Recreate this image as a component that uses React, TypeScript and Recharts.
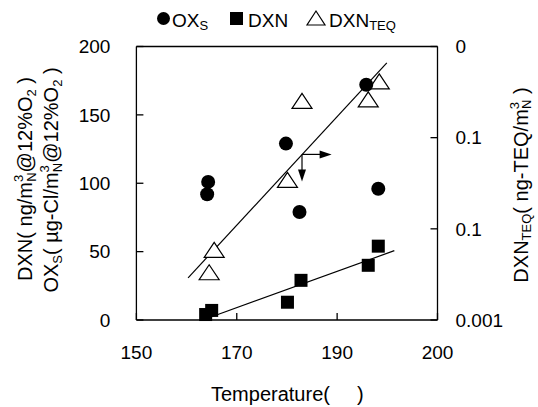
import { ScatterChart, Scatter, XAxis, YAxis, ReferenceLine, ReferenceDot } from "recharts"

// ── Data ──────────────────────────────────────────────────────────────────

const oxsTemp = [164.3, 164.1, 179.8, 182.5, 195.8, 198.2]
const oxsValue = [101, 92, 129, 79, 172, 96]

const dxnTemp = [163.8, 165.0, 180.1, 182.8, 196.2, 198.2]
const dxnValue = [4, 7, 13, 29, 40, 54]

const teqTemp = [165.5, 164.5, 180.1, 183.0, 196.2, 198.4]
const teqValue = [0.0058, 0.0033, 0.034, 0.25, 0.26, 0.41]

// trend lines (end points)
const teqTrendTemp = [160.3, 199.9]
const teqTrendValue = [0.0029, 0.66]
const dxnTrendTemp = [165.0, 201.4]
const dxnTrendValue = [2.4, 50.7]

const xTicks = [150, 170, 190, 210]
const xTickLabels = ["150", "170", "190", "200"]
const leftTicks = [0, 50, 100, 150, 200]
const teqTicks = [0.001, 0.01, 0.1, 1]
const teqTickLabels = ["0.001", "0.1", "0.1", "0"]

const zip = (xs: number[], ys: number[]) => xs.map((x, i) => ({ x, y: ys[i] }))

const FONT = "Arial, 'Liberation Sans', sans-serif"
const tickStyle = { fill: "#000", fontSize: 19, fontFamily: FONT }

// ── Marker shapes ─────────────────────────────────────────────────────────

const Dot = (p: any) => <circle cx={p.cx} cy={p.cy} r={7} fill="#000" />
const Square = (p: any) => <rect x={p.cx - 6.5} y={p.cy - 6.5} width={13} height={13} fill="#000" />
const Tri = (p: any) => (
  <path
    d={`M${p.cx},${p.cy - 8} L${p.cx - 10},${p.cy + 7} L${p.cx + 10},${p.cy + 7} Z`}
    fill="#fff"
    stroke="#000"
    strokeWidth={1.2}
  />
)
const Nothing = () => <g />
const ArrowRight = (p: any) => <path d={`M${p.cx},${p.cy} l-12,-4 l0,8 z`} fill="#000" />
const ArrowDown = (p: any) => <path d={`M${p.cx},${p.cy} l-4,-12 l8,0 z`} fill="#000" />

// ── Overlay texts (legend + axis titles) ─────────────────────────────────

function Overlay() {
  return (
    <svg
      width={538}
      height={407}
      style={{ position: "absolute", left: 0, top: 0, pointerEvents: "none" }}
      fontFamily={FONT}
      fill="#000"
    >
      {/* legend */}
      <circle cx={163.5} cy={18.5} r={6.5} />
      <text x={172} y={26.5} fontSize={19}>
        OX<tspan fontSize={13} dy={3}>S</tspan>
      </text>
      <rect x={230} y={12} width={13} height={13} />
      <text x={248} y={26.5} fontSize={19}>DXN</text>
      <path d="M316,11 L307,25 L325,25 Z" fill="none" stroke="#000" strokeWidth={1.2} />
      <text x={329} y={26.5} fontSize={19}>
        DXN<tspan fontSize={13} dy={3}>TEQ</tspan>
      </text>

      {/* left titles */}
      <text transform="translate(32,179) rotate(-90)" textAnchor="middle" fontSize={20}>
        DXN( ng/m<tspan fontSize={13} dy={-9}>3</tspan>
        <tspan fontSize={13} dy={13} dx={-7}>N</tspan>
        <tspan dy={-4}>@12%O</tspan>
        <tspan fontSize={13} dy={4}>2</tspan>
        <tspan dy={-4}> )</tspan>
      </text>
      <text transform="translate(58,180) rotate(-90)" textAnchor="middle" fontSize={20}>
        OX<tspan fontSize={13} dy={4}>S</tspan>
        <tspan dy={-4}>( µg-Cl/m</tspan>
        <tspan fontSize={13} dy={-9}>3</tspan>
        <tspan fontSize={13} dy={13} dx={-7}>N</tspan>
        <tspan dy={-4}>@12%O</tspan>
        <tspan fontSize={13} dy={4}>2</tspan>
        <tspan dy={-4}> )</tspan>
      </text>

      {/* right title */}
      <text transform="translate(528,185) rotate(-90)" textAnchor="middle" fontSize={20}>
        DXN<tspan fontSize={13} dy={3}>TEQ</tspan>
        <tspan dy={-3}>( ng-TEQ/m</tspan>
        <tspan fontSize={13} dy={-9}>3</tspan>
        <tspan fontSize={13} dy={12} dx={-7}>N</tspan>
        <tspan dy={-3}> )</tspan>
      </text>

      {/* x title (the unit glyph is blank in the original) */}
      <text x={211} y={401} fontSize={20}>Temperature(</text>
      <text x={357} y={401} fontSize={20}>)</text>
    </svg>
  )
}

// ── Main ──────────────────────────────────────────────────────────────────

export default function App() {
  return (
    <div style={{ position: "absolute", left: 0, top: 0, width: 538, height: 407, background: "#fff" }}>
      <ScatterChart width={538} height={407} margin={{ top: 46.5, right: 0, bottom: 0, left: 0 }}>
        <XAxis
          dataKey="x"
          type="number"
          domain={[150, 210]}
          ticks={xTicks}
          tickFormatter={(v) => xTickLabels[xTicks.indexOf(v)] ?? String(v)}
          height={87}
          tickSize={-7}
          tickMargin={33}
          tick={tickStyle}
          stroke="#000"
          strokeWidth={1.3}
          allowDataOverflow
        />
        <YAxis
          yAxisId="left"
          dataKey="y"
          type="number"
          domain={[0, 200]}
          ticks={leftTicks}
          width={136.4}
          tickSize={-7}
          tickMargin={33}
          tick={tickStyle}
          stroke="#000"
          strokeWidth={1.3}
        />
        <YAxis
          yAxisId="teq"
          orientation="right"
          dataKey="y"
          type="number"
          scale="log"
          domain={[0.001, 1]}
          ticks={teqTicks}
          tickFormatter={(v) => teqTickLabels[teqTicks.indexOf(v)] ?? String(v)}
          width={100.5}
          tickSize={-7}
          tickMargin={25}
          tick={tickStyle}
          stroke="#000"
          strokeWidth={1.3}
          allowDataOverflow
        />
        <ReferenceLine yAxisId="left" y={200} stroke="#000" strokeWidth={1.3} />

        {/* trend lines */}
        <Scatter
          yAxisId="teq"
          data={zip(teqTrendTemp, teqTrendValue)}
          line={{ stroke: "#000", strokeWidth: 1.2 }}
          shape={Nothing}
          isAnimationActive={false}
        />
        <Scatter
          yAxisId="left"
          data={zip(dxnTrendTemp, dxnTrendValue)}
          line={{ stroke: "#000", strokeWidth: 1.2 }}
          shape={Nothing}
          isAnimationActive={false}
        />

        {/* arrows pointing at the axes */}
        <ReferenceLine
          yAxisId="left"
          segment={[{ x: 183, y: 121.1 }, { x: 187, y: 121.1 }]}
          stroke="#000"
          strokeWidth={1.2}
        />
        <ReferenceLine
          yAxisId="left"
          segment={[{ x: 183, y: 121.1 }, { x: 183, y: 107 }]}
          stroke="#000"
          strokeWidth={1.2}
        />
        <ReferenceDot yAxisId="left" x={188.9} y={121.1} shape={ArrowRight} />
        <ReferenceDot yAxisId="left" x={183} y={101.3} shape={ArrowDown} />

        <Scatter yAxisId="teq" data={zip(teqTemp, teqValue)} shape={Tri} isAnimationActive={false} />
        <Scatter yAxisId="left" data={zip(oxsTemp, oxsValue)} shape={Dot} isAnimationActive={false} />
        <Scatter yAxisId="left" data={zip(dxnTemp, dxnValue)} shape={Square} isAnimationActive={false} />
      </ScatterChart>
      <Overlay />
    </div>
  )
}
